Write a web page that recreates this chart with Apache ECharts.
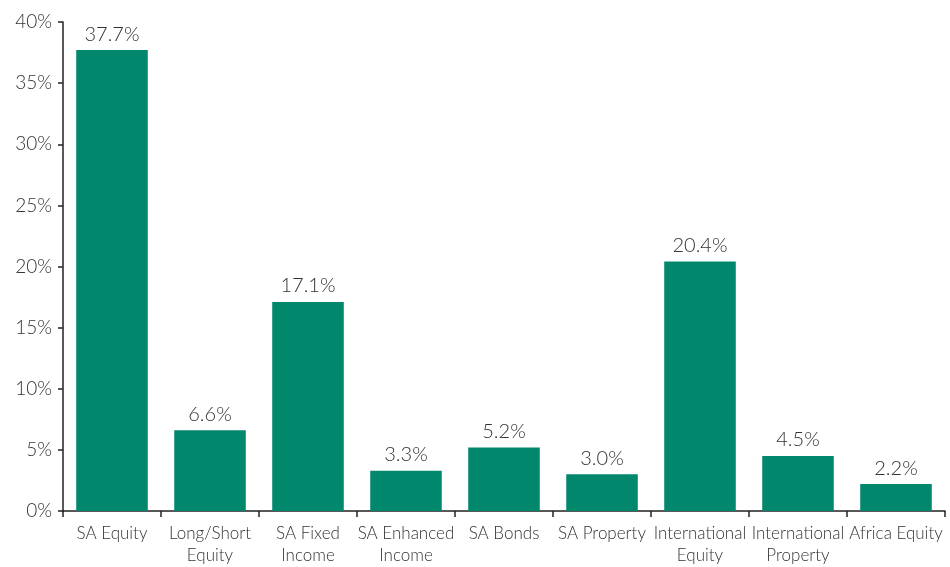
<!DOCTYPE html>
<html>
<head>
<meta charset="utf-8">
<script src="https://cdn.jsdelivr.net/npm/echarts@6/dist/echarts.min.js"></script>
<style>html,body{margin:0;padding:0;background:#fff;}#c{width:950px;height:567px;}</style>
</head>
<body>
<div id="c"></div>
<script>
var categories = ["SA Equity", "Long/Short\nEquity", "SA Fixed\nIncome", "SA Enhanced\nIncome", "SA Bonds", "SA Property", "International\nEquity", "International\nProperty", "Africa Equity"];
var values = [37.7, 6.6, 17.1, 3.3, 5.2, 3.0, 20.4, 4.5, 2.2];
var yMin = 0, yMax = 40, yStep = 5;

var chart = echarts.init(document.getElementById('c'));
var font = 'Lato, "Open Sans", sans-serif';
chart.setOption({
  animation: false,
  grid: { left: 63, right: 5, top: 22, bottom: 55, containLabel: false },
  xAxis: {
    type: 'category',
    data: categories,
    axisLine: { lineStyle: { color: '#222', width: 1.5 } },
    axisTick: { show: true, alignWithLabel: false, length: 6, lineStyle: { color: '#222', width: 1.5 } },
    axisLabel: { color: '#333', fontSize: 17, fontFamily: font, fontWeight: 300, margin: 12, lineHeight: 22, interval: 0 }
  },
  yAxis: {
    type: 'value',
    min: yMin, max: yMax, interval: yStep,
    splitLine: { show: false },
    axisLine: { show: true, lineStyle: { color: '#222', width: 1.5 } },
    axisTick: { show: true, length: 5, lineStyle: { color: '#222', width: 1.5 } },
    axisLabel: { color: '#333', fontSize: 19, fontFamily: font, fontWeight: 300, margin: 11, formatter: function (v) { return v + '%'; } }
  },
  series: [{
    type: 'bar',
    data: values,
    barCategoryGap: '27%',
    itemStyle: { color: '#00876C' },
    label: {
      show: true, position: 'top', distance: 6,
      color: '#333', fontSize: 20, fontFamily: font, fontWeight: 300,
      formatter: function (p) { return p.value.toFixed(1) + '%'; }
    }
  }]
});
</script>
</body>
</html>
